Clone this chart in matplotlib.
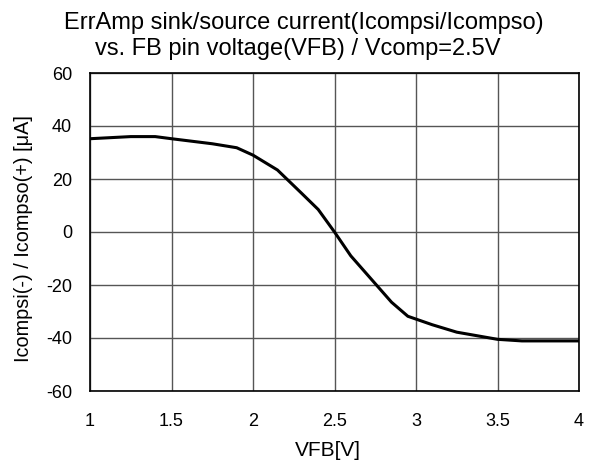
import matplotlib.pyplot as plt

plt.rcParams['font.family'] = ['Liberation Sans', 'DejaVu Sans']
plt.rcParams['axes.unicode_minus'] = False

# VFB [V] vs. error amp current [uA]
vfb = [1.0, 1.25, 1.4, 1.5, 1.75, 1.9, 2.0, 2.15, 2.3, 2.4, 2.5,
       2.6, 2.75, 2.85, 2.95, 3.1, 3.25, 3.5, 3.65, 4.0]
icomp = [35.2, 36.0, 36.0, 35.2, 33.3, 31.8, 29.0, 23.4, 14.5, 8.5, 0.0,
         -9.0, -19.5, -26.5, -31.8, -35.0, -37.8, -40.5, -41.1, -41.1]

xticks = [1, 1.5, 2, 2.5, 3, 3.5, 4]
yticks = [-60, -40, -20, 0, 20, 40, 60]

W, H = 593, 468
fig = plt.figure(figsize=(W / 100, H / 100), dpi=100)
ax = fig.add_axes([90 / W, 1 - 391 / H, 489 / W, 318 / H])

ax.plot(vfb, icomp, color='black', linewidth=2.2, solid_joinstyle='miter')

ax.set_xlim(1, 4)
ax.set_ylim(-60, 60)
ax.set_xticks(xticks)
ax.set_xticklabels(['1', '1.5', '2', '2.5', '3', '3.5', '4'])
ax.set_yticks(yticks)
ax.tick_params(length=0, labelsize=13)
ax.tick_params(axis='x', pad=16)
ax.tick_params(axis='y', pad=13)
ax.grid(True, color='#555555', linewidth=1)
for s in ax.spines.values():
    s.set_color('black')
    s.set_linewidth(1.2)

# two-line title, each line centred on its own
fig.text(304 / W, 1 - 29 / H, 'ErrAmp sink/source current(Icompsi/Icompso)',
         fontsize=17, ha='center', va='baseline')
fig.text(298 / W, 1 - 55 / H, 'vs. FB pin voltage(VFB) / Vcomp=2.5V',
         fontsize=17, ha='center', va='baseline')

ax.set_xlabel('VFB[V]', fontsize=15)
ax.xaxis.set_label_coords((328 - 90) / 489, -0.158)
ax.set_ylabel('Icompsi(-) / Icompso(+) [\u03bcA]', fontsize=14.3)
ax.yaxis.set_label_coords(-0.117, (391 - 239) / 318)

fig.savefig('out.png', dpi=100)
